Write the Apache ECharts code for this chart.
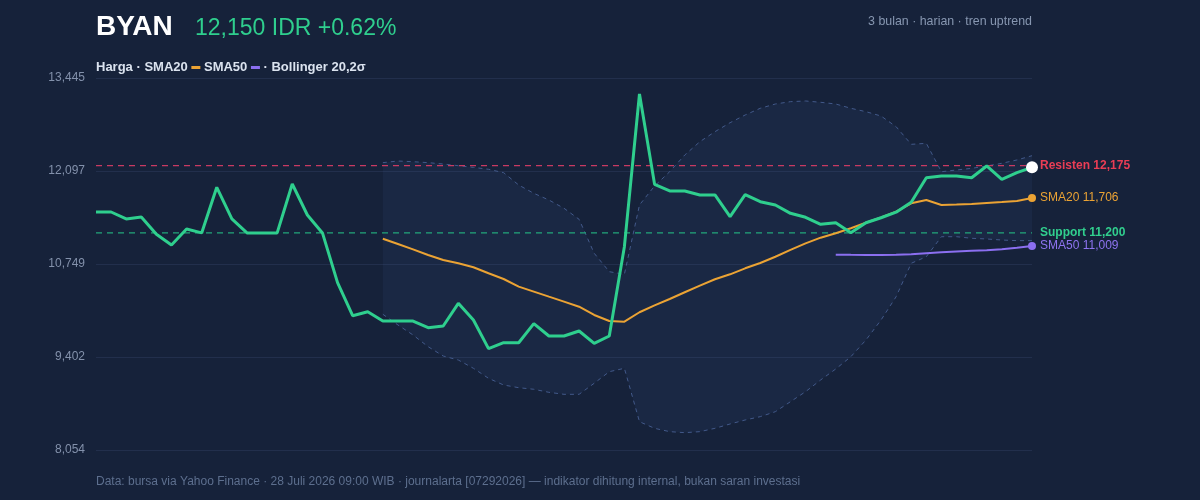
<!DOCTYPE html>
<html>
<head>
<meta charset="utf-8">
<title>BYAN</title>
<script src="https://cdn.jsdelivr.net/npm/echarts@6/dist/echarts.min.js"></script>
<style>
  html, body { margin: 0; padding: 0; background: #16223a; }
  #chart { width: 1200px; height: 500px; }
</style>
</head>
<body>
<div id="chart"></div>
<script>
// data harian 3 bulan (63 hari bursa)
const price = [
  11503, 11503, 11402, 11431, 11180, 11025, 11257, 11200, 11861, 11402,
  11200, 11200, 11200, 11909, 11460, 11200, 10480, 10000, 10058,
  9923, 9923, 9923, 9827, 9851, 10180, 9938, 9523, 9609, 9609,
  9885, 9706, 9706, 9778, 9600, 9706,
  11001, 13213, 11904, 11808, 11808, 11750, 11750, 11435, 11754, 11652,
  11605, 11484, 11426, 11325, 11348, 11203, 11348, 11420, 11500, 11644,
  12000, 12025, 12025, 12000, 12170, 11977, 12073, 12150
]
// SMA20 mulai hari ke-20, SMA50 mulai hari ke-50
const sma20 = [
  11116, 11040, 10962, 10880, 10808, 10760, 10702, 10615, 10532, 10421,
  10349, 10276, 10204, 10131, 10011, 9923, 9914, 10050, 10151, 10242,
  10340, 10435, 10528, 10600, 10687, 10764, 10855, 10953, 11049, 11131,
  11195, 11267, 11348, 11426, 11508, 11629, 11677, 11605, 11610, 11619,
  11634, 11648, 11663, 11706
]
const sma50 = [
  10885, 10882, 10880, 10880, 10882, 10890, 10905, 10918, 10930, 10940,
  10950, 10965, 10985, 11009
]
const bbUpper = [
  12218, 12242, 12232, 12218, 12199, 12174, 12150, 12122, 12073, 11894,
  11774, 11677, 11557, 11397, 10905, 10638, 10600, 11605, 11880, 12087,
  12329, 12522, 12667, 12797, 12909, 13006, 13068, 13102, 13112, 13093,
  13068, 13006, 12957, 12894, 12739, 12484, 12498, 12087, 12112, 12136,
  12170, 12209, 12257, 12319
]
const bbLower = [
  10021, 9866, 9721, 9551, 9416, 9358, 9238, 9093, 8996, 8957,
  8934, 8890, 8861, 8861, 9021, 9189, 9238, 8464, 8368, 8320,
  8305, 8320, 8368, 8431, 8489, 8537, 8609, 8754, 8899, 9069,
  9228, 9406, 9648, 9938, 10276, 10760, 10855, 11145, 11145, 11122,
  11112, 11097, 11088, 11088
]
const resistance = 12175
const support = 11200
const yTicks = [8054, 9402, 10749, 12097, 13445]

const days = price.map((_, i) => 'H' + (i + 1))
const FONT = '"Liberation Sans", Arial, Helvetica, sans-serif'

// geser data indikator supaya sejajar dengan harga
const pad = (arr) => new Array(price.length - arr.length).fill(null).concat(arr)
const lastDot = (arr, size, color) => {
  const out = pad(arr)
  const i = out.length - 1
  out[i] = { value: out[i], symbol: 'circle', symbolSize: size, itemStyle: { color: color } }
  return out
}
const fmt = (v) => Math.round(v).toLocaleString('en-US')

const bandWidth = bbUpper.map((u, i) => u - bbLower[i])

// garis horizontal resisten / support: titik hari pertama & terakhir, disambung
const levelLine = (name, value, lineColor, textColor) => ({
  name: name, type: 'line', z: 4, symbol: 'none', connectNulls: true, silent: true,
  data: days.map((_, i) => (i === 0 || i === days.length - 1 ? value : null)),
  lineStyle: { color: lineColor, width: 1.2, type: [6, 5] },
  endLabel: {
    show: true, distance: 8, color: textColor, fontSize: 12, fontWeight: 'bold',
    formatter: name + ' ' + fmt(value)
  }
})

const chart = echarts.init(document.getElementById('chart'), null, { renderer: 'canvas' })

chart.setOption({
  backgroundColor: '#16223a',
  animation: false,
  textStyle: { fontFamily: FONT },
  grid: { left: 96, right: 168, top: 78, bottom: 50 },
  graphic: [
    { type: 'text', left: 96, top: 13, style: { text: 'BYAN', font: 'bold 28px ' + FONT, fill: '#ffffff' } },
    { type: 'text', left: 195, top: 17, style: { text: '12,150 IDR +0.62%', font: '23px ' + FONT, fill: '#2fcf8e' } },
    {
      type: 'text', left: 96, top: 61,
      style: {
        text: '{a|Harga · SMA20 }{o| }{a| SMA50 }{p| }{a| · Bollinger 20,2σ}',
        rich: {
          a: { font: 'bold 13px ' + FONT, fill: '#dbe3ef' },
          o: { width: 9, height: 3, backgroundColor: '#eba334' },
          p: { width: 9, height: 3, backgroundColor: '#8b6ff0' }
        }
      }
    },
    { type: 'text', right: 168, top: 16, style: { text: '3 bulan · harian · tren uptrend', font: '12.4px ' + FONT, fill: '#8797b1' } },
    {
      type: 'text', left: 96, top: 476,
      style: {
        text: 'Data: bursa via Yahoo Finance · 28 Juli 2026 09:00 WIB · journalarta [07292026] — indikator dihitung internal, bukan saran investasi',
        font: '12px ' + FONT, fill: '#5d6f8e'
      }
    }
  ],
  xAxis: {
    type: 'category',
    data: days,
    boundaryGap: false,
    axisLine: { show: false },
    axisTick: { show: false },
    axisLabel: { show: false },
    splitLine: { show: false }
  },
  yAxis: {
    type: 'value',
    min: yTicks[0],
    max: yTicks[yTicks.length - 1],
    interval: (yTicks[yTicks.length - 1] - yTicks[0]) / (yTicks.length - 1),
    axisLine: { show: false },
    axisTick: { show: false },
    axisLabel: {
      color: '#8391ab',
      fontSize: 12,
      margin: 11,
      formatter: (v) => {
        let best = yTicks[0]
        yTicks.forEach((t) => { if (Math.abs(t - v) < Math.abs(best - v)) best = t })
        return fmt(best)
      }
    },
    splitLine: { lineStyle: { color: '#222f4c', width: 1 } }
  },
  series: [
    // area Bollinger (stack bawah + lebar pita)
    {
      name: 'bbBase', type: 'line', stack: 'bb', data: pad(bbLower),
      symbol: 'none', lineStyle: { width: 0, opacity: 0 }, silent: true, z: 1
    },
    {
      name: 'bbFill', type: 'line', stack: 'bb', data: pad(bandWidth),
      symbol: 'none', lineStyle: { width: 0, opacity: 0 },
      areaStyle: { color: 'rgba(70,100,160,0.14)' }, silent: true, z: 1
    },
    {
      name: 'BB atas', type: 'line', data: pad(bbUpper), symbol: 'none', z: 2,
      lineStyle: { color: '#42598a', width: 1, type: [4, 4] }
    },
    {
      name: 'BB bawah', type: 'line', data: pad(bbLower), symbol: 'none', z: 2,
      lineStyle: { color: '#42598a', width: 1, type: [4, 4] }
    },
    levelLine('Resisten', resistance, '#c83a62', '#ea3d55'),
    levelLine('Support', support, '#22a67a', '#31cf8e'),
    {
      name: 'SMA50', type: 'line', data: lastDot(sma50, 8, '#8b6ff0'),
      symbol: 'none', showAllSymbol: true, z: 5,
      lineStyle: { color: '#8b6ff0', width: 2 },
      endLabel: {
        show: true, distance: 8, color: '#8e74f0', fontSize: 12,
        formatter: (p) => 'SMA50 ' + fmt(p.value)
      }
    },
    {
      name: 'SMA20', type: 'line', data: lastDot(sma20, 8, '#eba334'),
      symbol: 'none', showAllSymbol: true, z: 5,
      lineStyle: { color: '#eba334', width: 2 },
      endLabel: {
        show: true, distance: 8, color: '#eba334', fontSize: 12,
        formatter: (p) => 'SMA20 ' + fmt(p.value)
      }
    },
    {
      name: 'Harga', type: 'line', data: lastDot(price, 12, '#ffffff'),
      symbol: 'none', showAllSymbol: true, z: 6,
      lineStyle: { color: '#2fcf8e', width: 3 }
    }
  ]
})
</script>
</body>
</html>
